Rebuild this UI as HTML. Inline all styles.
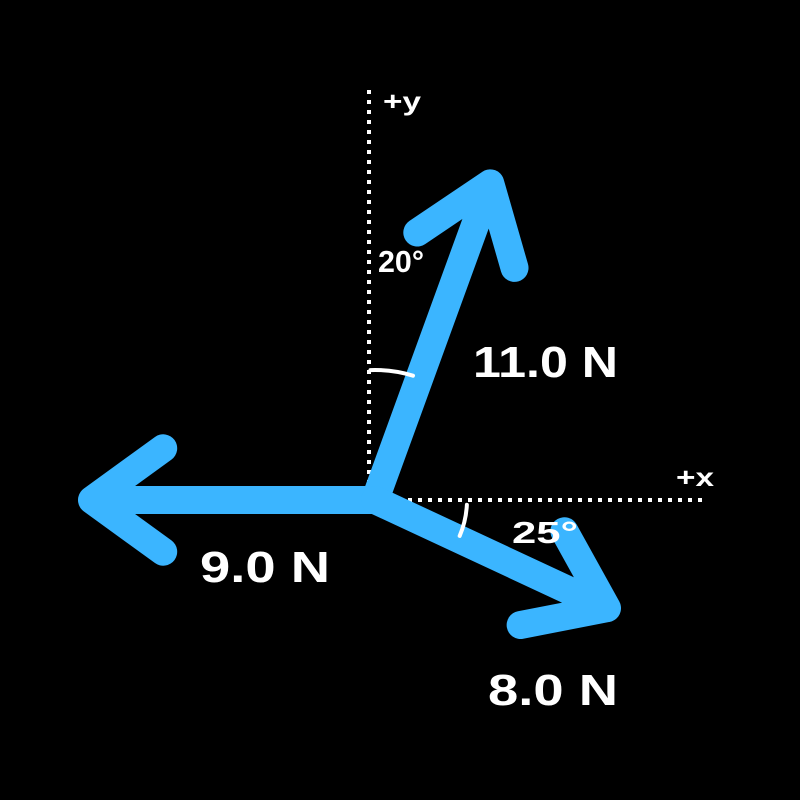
<!DOCTYPE html>
<html><head><meta charset="utf-8"><style>
html,body{margin:0;padding:0;background:#000;}
svg{display:block;}
text{font-family:"Liberation Sans",sans-serif;font-weight:bold;fill:#fff;}
</style></head><body>
<svg id="c" width="800" height="800" viewBox="0 0 800 800">
<rect width="800" height="800" fill="#000"/>
<line x1="369" y1="90" x2="369" y2="484" stroke="#fff" stroke-width="4" stroke-dasharray="4 6"/>
<line x1="398" y1="500" x2="705" y2="500" stroke="#fff" stroke-width="4" stroke-dasharray="4 6"/>
<text x="383" y="110" font-size="26" textLength="38" lengthAdjust="spacingAndGlyphs">+y</text>
<text x="676" y="486" font-size="26" textLength="38" lengthAdjust="spacingAndGlyphs">+x</text>
<g id="g"></g>
</svg>
<script>
const labels=["11.0 N","9.0 N","8.0 N"];
const magnitudes=[11,9,8];
const anglesDeg=[70,180,-25];
const angleLabels=["20°","25°"];
const ox=375, oy=500;
function len(m){return 40+m*27;}
function pt(m,a){const r=a*Math.PI/180;return [ox+len(m)*Math.cos(r), oy-len(m)*Math.sin(r)];}
const g=document.getElementById('g');
const NS="http://www.w3.org/2000/svg";
const labelPos=[[473,377],[200,582],[488,705]];
const labelW=[145,130,130];
magnitudes.forEach((m,i)=>{
  const a=anglesDeg[i];const [tx,ty]=pt(m,a);
  const p=document.createElementNS(NS,'path');
  const r=a*Math.PI/180,hl=88,ha=36*Math.PI/180;
  const h1=[tx-hl*Math.cos(r-ha),ty+hl*Math.sin(r-ha)],h2=[tx-hl*Math.cos(r+ha),ty+hl*Math.sin(r+ha)];
  p.setAttribute('d',`M${ox},${oy}L${tx},${ty}M${h1[0]},${h1[1]}L${tx},${ty}L${h2[0]},${h2[1]}`);
  p.setAttribute('stroke','#3bb5ff');p.setAttribute('stroke-width','28');p.setAttribute('fill','none');
  p.setAttribute('stroke-linecap','round');p.setAttribute('stroke-linejoin','round');
  
  
  g.appendChild(p);
  const t=document.createElementNS(NS,'text');
  t.setAttribute('x',labelPos[i][0]);t.setAttribute('y',labelPos[i][1]);t.setAttribute('font-size','44');
  t.setAttribute('textLength',labelW[i]);t.setAttribute('lengthAdjust','spacingAndGlyphs');
  t.textContent=labels[i];
  
  
  g.appendChild(t);
});
function arc(r,a1,a2){const p1=[ox+r*Math.cos(a1*Math.PI/180),oy-r*Math.sin(a1*Math.PI/180)],p2=[ox+r*Math.cos(a2*Math.PI/180),oy-r*Math.sin(a2*Math.PI/180)];
 const p=document.createElementNS(NS,'path');p.setAttribute('d',`M${p1[0]},${p1[1]}A${r},${r} 0 0 ${a2<a1?1:0} ${p2[0]},${p2[1]}`);
 p.setAttribute('stroke','#fff');p.setAttribute('stroke-width','4');p.setAttribute('fill','none');p.setAttribute('stroke-linecap','round');
 
 
 g.appendChild(p);}
arc(130,92,73);arc(92,-3,-23);
[[378,272,46],[512,543,66]].forEach((q,i)=>{const t=document.createElementNS(NS,'text');t.setAttribute('x',q[0]);t.setAttribute('y',q[1]);t.setAttribute('font-size','31');t.setAttribute('textLength',q[2]);t.setAttribute('lengthAdjust','spacingAndGlyphs');t.textContent=angleLabels[i];
 
 
 g.appendChild(t);});
</script>
</body></html>
